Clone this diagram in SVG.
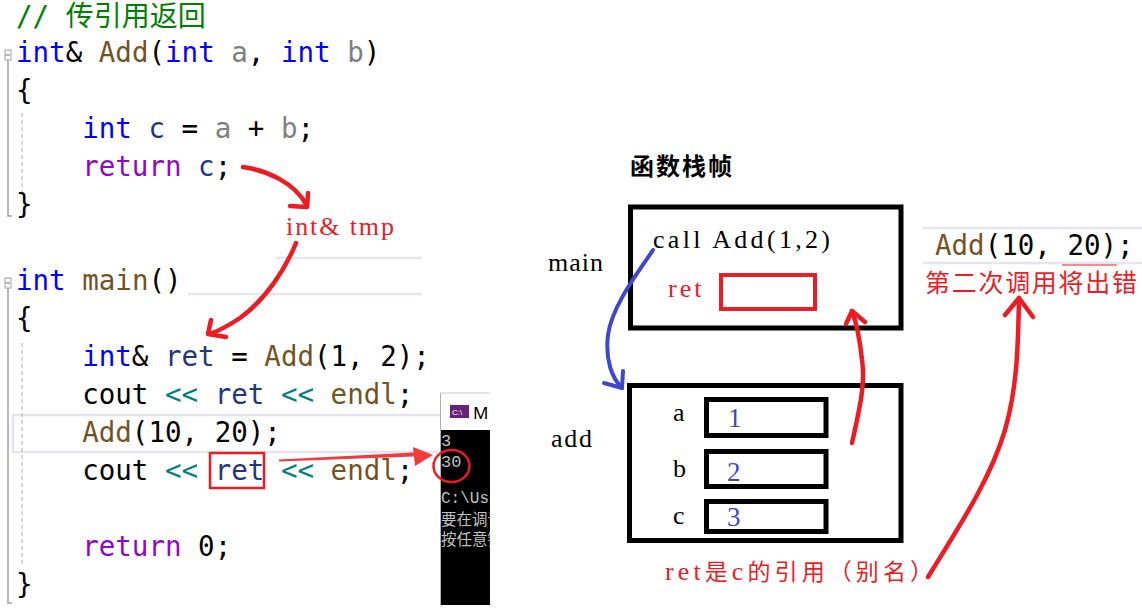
<svg xmlns="http://www.w3.org/2000/svg" width="1142" height="614" viewBox="0 0 1142 614">
<style>
.code{font-family:"DejaVu Sans Mono","Noto Sans CJK SC",monospace;font-size:27.5px;fill:#000;white-space:pre}
.kw{fill:#0000ff}.fn{fill:#74531f}.pm{fill:#808080}.lv{fill:#1f377f}.ct{fill:#8f08c4}.op{fill:#008080}.cm{fill:#008000}
.lbl{font-family:"Liberation Serif","Noto Sans CJK SC",serif;font-size:26px;fill:#000;white-space:pre}
.red{fill:#ed1c24}
.val{font-family:"Liberation Serif",serif;font-size:27px;fill:#3f48cc}
.cjk{font-family:"Noto Sans CJK SC",sans-serif}
.frame{fill:none;stroke:#000;stroke-width:5}
.cell{fill:none;stroke:#000;stroke-width:5}
.ed{stroke:#e6e6ef;stroke-width:2.5;fill:none}
.gut{stroke:#a0a0a0;stroke-width:1.5;fill:none}
.guide{stroke:#c8c8c8;stroke-width:1.5;stroke-dasharray:4 3;fill:none}
.pen{fill:none;stroke:#ed1c24;stroke-width:4.5;stroke-linecap:round;stroke-linejoin:round}
.con{font-family:"Liberation Mono","Noto Sans CJK SC",monospace;font-size:16px;fill:#c0c0c0}
</style>
<defs>
<clipPath id="conclip"><rect x="441" y="430" width="49" height="176"/></clipPath>
</defs>
<rect width="1142" height="614" fill="#fff"/>

<g id="editor">
<line class="ed" x1="276" y1="258" x2="422" y2="258"/>
<line class="ed" x1="188" y1="294" x2="422" y2="294"/>
<rect x="13" y="415" width="440" height="37" fill="none" stroke="#e4e4ee" stroke-width="2.5"/>
<rect x="5" y="50" width="6" height="10" fill="#fff" stroke="#a0a0a0" stroke-width="1"/>
<line class="gut" x1="5" y1="55" x2="10" y2="55"/>
<polyline class="gut" points="8,60 8,216 12,216"/>
<rect x="5" y="278" width="6" height="10" fill="#fff" stroke="#a0a0a0" stroke-width="1"/>
<line class="gut" x1="5" y1="283" x2="10" y2="283"/>
<polyline class="gut" points="8,288 8,603 12,603"/>
<line class="guide" x1="22" y1="113" x2="22" y2="192"/>
<line class="guide" x1="22" y1="343" x2="22" y2="565"/>
<g class="code">
<text x="16" y="26" class="cm">// <tspan font-size="28">传引用返回</tspan></text>
<text x="16" y="62"><tspan class="kw">int</tspan>&amp; <tspan class="fn">Add</tspan>(<tspan class="kw">int</tspan> <tspan class="pm">a</tspan>, <tspan class="kw">int</tspan> <tspan class="pm">b</tspan>)</text>
<text x="16" y="100">{</text>
<text x="82.2" y="138"><tspan class="kw">int</tspan> <tspan class="lv">c</tspan> = <tspan class="pm">a</tspan> + <tspan class="pm">b</tspan>;</text>
<text x="82.2" y="176"><tspan class="ct">return</tspan> <tspan class="lv">c</tspan>;</text>
<text x="16" y="214">}</text>
<text x="16" y="290"><tspan class="kw">int</tspan> <tspan class="fn">main</tspan>()</text>
<text x="16" y="328">{</text>
<text x="82.2" y="366"><tspan class="kw">int</tspan>&amp; <tspan class="lv">ret</tspan> = <tspan class="fn">Add</tspan>(1, 2);</text>
<text x="82.2" y="404">cout <tspan class="op">&lt;&lt;</tspan> <tspan class="lv">ret</tspan> <tspan class="op">&lt;&lt;</tspan> <tspan class="fn">endl</tspan>;</text>
<text x="82.2" y="442"><tspan class="fn">Add</tspan>(10, 20);</text>
<text x="82.2" y="480">cout <tspan class="op">&lt;&lt;</tspan> <tspan class="lv">ret</tspan> <tspan class="op">&lt;&lt;</tspan> <tspan class="fn">endl</tspan>;</text>
<text x="82.2" y="556"><tspan class="ct">return</tspan> 0;</text>
<text x="16" y="594">}</text>
</g>
<rect x="210" y="453" width="54" height="35" fill="none" stroke="#ed1c24" stroke-width="2.5"/>
</g>

<g id="console">
<rect x="440" y="393" width="50" height="37" fill="#fff"/>
<line x1="440" y1="393" x2="490" y2="393" stroke="#c8c8c8" stroke-width="1"/>
<line x1="440.5" y1="393" x2="440.5" y2="605" stroke="#b0b0b0" stroke-width="1"/>
<rect x="450" y="405" width="19" height="13" fill="#68217a"/>
<text x="452" y="415" font-family="Liberation Sans,sans-serif" font-size="8" fill="#fff">C:\</text>
<text x="473" y="419" font-family="Noto Sans,sans-serif" font-size="17" fill="#000">M</text>
<rect x="441" y="430" width="49" height="175" fill="#000"/>
<g clip-path="url(#conclip)" class="con">
<text x="441" y="446" font-size="17">3</text>
<text x="441" y="467" font-size="17">30</text>
<text x="441" y="503">C:\Users</text>
<text x="441" y="525" class="cjk" font-size="15.5">要在调试</text>
<text x="441" y="545" class="cjk" font-size="15.5">按任意键</text>
</g>
<ellipse cx="451.5" cy="466" rx="18" ry="16" fill="none" stroke="#ed1c24" stroke-width="2.5"/>
</g>

<g id="title">
<text x="630" y="175" class="cjk" font-size="24" font-weight="bold" letter-spacing="2" fill="#000">函数栈帧</text>
</g>

<g id="main-frame">
<text x="548" y="271" class="lbl" textLength="55">main</text>
<rect class="frame" x="630.5" y="207" width="270.5" height="121"/>
<text x="653" y="248" class="lbl" textLength="177">call Add(1,2)</text>
<text x="668" y="297" class="lbl red" letter-spacing="3">ret</text>
<rect x="721" y="275" width="94" height="34" fill="none" stroke="#ed1c24" stroke-width="4"/>
</g>

<g id="add-frame">
<text x="551" y="447" class="lbl" textLength="41">add</text>
<rect class="frame" x="629.5" y="385.5" width="271.5" height="155"/>
<text x="673" y="421" class="lbl">a</text>
<rect class="cell" x="706.5" y="399.5" width="119.5" height="36"/>
<text x="728" y="427" class="val">1</text>
<text x="673" y="477" class="lbl">b</text>
<rect class="cell" x="706.5" y="451.5" width="119.5" height="35"/>
<text x="727" y="481" class="val">2</text>
<text x="673" y="524" class="lbl">c</text>
<rect class="cell" x="706.5" y="501.5" width="119.5" height="30"/>
<text x="727" y="526" class="val">3</text>
</g>

<g id="note-ret">
<text x="665" y="580" class="lbl red" textLength="268">ret<tspan class="cjk" font-size="23">是</tspan>c<tspan class="cjk" font-size="23">的引用（别名）</tspan></text>
</g>

<g id="second-call">
<line class="ed" x1="923" y1="228" x2="1142" y2="228"/>
<line class="ed" x1="923" y1="263" x2="1142" y2="263"/>
<text x="935" y="255" class="code"><tspan class="fn">Add</tspan>(10, 20);</text>
<line x1="1062" y1="265" x2="1117" y2="265" stroke="#ed1c24" stroke-width="1.2"/>
<text x="925" y="292" class="cjk red" font-size="25" textLength="212">第二次调用将出错</text>
</g>

<g id="tmp-label">
<text x="286" y="235" class="lbl red" textLength="108">int&amp; tmp</text>
</g>

<g id="connectors">
<path class="pen" d="M243,167 C265,170 295,182 307,206"/>
<path class="pen" d="M290,206 L307,207 L308,193"/>
<path class="pen" d="M296,243 C285,270 265,300 240,318 C228,326 218,331 210,334"/>
<path class="pen" d="M211,320 L208,334 L226,337"/>
<path d="M279,459.5 L414,452.5 L414,456.5 L279,461.5 Z" fill="#f03c3c"/>
<path d="M413,447 L433,455 L415,466 Z" fill="#f03c3c"/>
<path d="M653,250 C640,270 612,305 608,335 C605,360 612,378 622,388" fill="none" stroke="#3f48cc" stroke-width="4" stroke-linecap="round"/>
<path d="M604,383 L622,388 L623,371" fill="none" stroke="#3f48cc" stroke-width="4" stroke-linecap="round" stroke-linejoin="round"/>
<path class="pen" d="M852,443 C858,415 866,385 862,360 C860,340 856,322 852,311"/>
<path class="pen" d="M846,324 L852,311 L865,322"/>
<path class="pen" d="M928,577 C960,525 990,480 1005,430 C1018,385 1018,340 1019,298"/>
<path class="pen" d="M1005,315 L1019,298 L1033,317"/>
</g>
</svg>
